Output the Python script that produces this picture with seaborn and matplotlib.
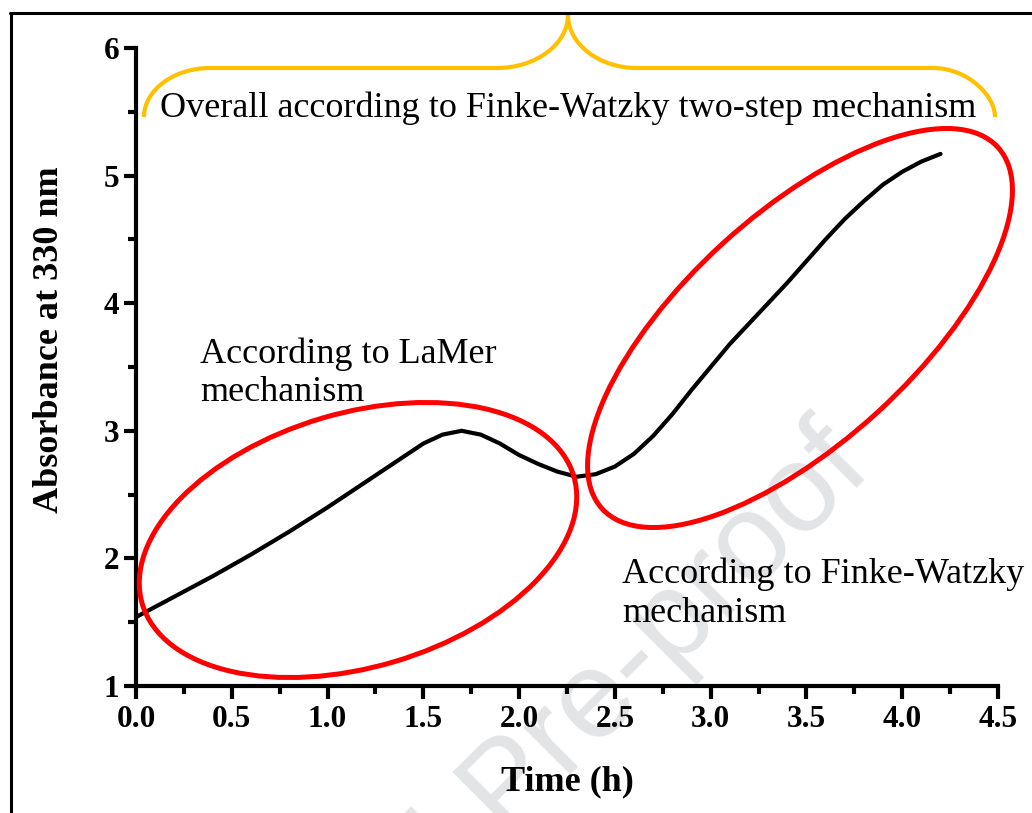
import matplotlib
matplotlib.use("Agg")
import numpy as np
import pandas as pd
import matplotlib.pyplot as plt
import seaborn as sns
from matplotlib.patches import Ellipse, PathPatch
from matplotlib.path import Path
from matplotlib.lines import Line2D
from matplotlib.ticker import MultipleLocator

# Absorbance at 330 nm recorded over the reaction time
time_h = [0.0, 0.2, 0.4, 0.6, 0.8, 1.0, 1.1, 1.2, 1.3, 1.4, 1.5, 1.6, 1.7,
          1.8, 1.9, 2.0, 2.1, 2.2, 2.3, 2.4, 2.5, 2.6, 2.7, 2.8, 2.9, 3.0,
          3.1, 3.2, 3.3, 3.4, 3.5, 3.6, 3.7, 3.8, 3.9, 4.0, 4.1, 4.2]
absorbance = [1.54, 1.70, 1.86, 2.03, 2.21, 2.40, 2.50, 2.60, 2.70, 2.80,
              2.90, 2.97, 3.00, 2.97, 2.90, 2.81, 2.74, 2.68, 2.64, 2.66,
              2.72, 2.82, 2.96, 3.13, 3.32, 3.50, 3.68, 3.84, 4.00, 4.16,
              4.33, 4.50, 4.66, 4.80, 4.93, 5.03, 5.11, 5.17]

x_ticks = [0.0, 0.5, 1.0, 1.5, 2.0, 2.5, 3.0, 3.5, 4.0, 4.5]
y_ticks = [1, 2, 3, 4, 5, 6]

overall_label = "Overall according to Finke-Watzky two-step mechanism"
lamer_label = ["According to LaMer", "mechanism"]
fw_label = ["According to Finke-Watzky", "mechanism"]

sns.set_style("ticks")
plt.rcParams['font.family'] = ['Liberation Serif', 'DejaVu Serif']
plt.rcParams['text.color'] = 'black'
plt.rcParams['axes.labelcolor'] = 'black'
plt.rcParams['xtick.color'] = 'black'
plt.rcParams['ytick.color'] = 'black'

W, H, DPI = 1032, 813, 100
fig = plt.figure(figsize=(W / DPI, H / DPI), dpi=DPI, facecolor="white")


def inch(x, y):
    """Pixel position (from the top-left corner) to figure inches."""
    return (x / DPI, (H - y) / DPI)


def frac(x, y):
    """Pixel position (from the top-left corner) to figure fraction."""
    return (x / W, 1 - y / H)


ax = fig.add_axes([136 / W, 1 - 686 / H, (998 - 136) / W, (686 - 48) / H])
ax.patch.set_visible(False)

df = pd.DataFrame({"Time (h)": time_h, "Absorbance": absorbance})
sns.lineplot(data=df, x="Time (h)", y="Absorbance", color="black",
             linewidth=3, ax=ax, solid_capstyle="round",
             solid_joinstyle="round", zorder=3)

ax.set_xlim(0, 4.5)
ax.set_ylim(1, 6)
ax.set_xticks(x_ticks)
ax.set_xticklabels([f"{v:.1f}" for v in x_ticks], fontweight="bold")
ax.set_yticks(y_ticks)
ax.set_yticklabels([str(v) for v in y_ticks], fontweight="bold")
ax.xaxis.set_minor_locator(MultipleLocator(0.25))
ax.yaxis.set_minor_locator(MultipleLocator(0.5))
ax.tick_params(which="major", direction="out", length=9, width=3,
               labelsize=22.5, color="black", labelcolor="black")
ax.tick_params(axis="x", which="major", pad=5)
ax.tick_params(axis="y", which="major", pad=3)
ax.tick_params(which="minor", direction="out", length=5.5, width=3,
               color="black")
ax.set_xlabel("")
ax.set_ylabel("")
sns.despine(ax=ax)
for side in ("left", "bottom"):
    ax.spines[side].set_linewidth(3)
    ax.spines[side].set_color("black")

# axis titles
fig.text(*frac(567, 790), "Time (h)", ha="center", va="baseline",
         fontsize=26, fontweight="bold")
fig.text(*frac(50, 340), "Absorbance at 330 nm", ha="center", va="center",
         rotation=90, fontsize=26, fontweight="bold")

# frame around the panel
fig.add_artist(Line2D([11 / DPI, 11 / DPI], [inch(0, 13)[1], inch(0, 830)[1]],
                      transform=fig.dpi_scale_trans, color="black", lw=2.2))
fig.add_artist(Line2D([10 / DPI, 1050 / DPI], [inch(0, 13)[1]] * 2,
                      transform=fig.dpi_scale_trans, color="black", lw=2.2))

# regions of the two growth regimes
e1 = Ellipse(inch(358, 540), 4.50, 2.54, angle=16.5, fill=False,
             edgecolor="#ff0000", lw=3.6, transform=fig.dpi_scale_trans,
             zorder=4)
e2 = Ellipse(inch(800, 328), 5.36, 2.29, angle=42.4, fill=False,
             edgecolor="#ff0000", lw=3.6, transform=fig.dpi_scale_trans,
             zorder=4)
fig.add_artist(e1)
fig.add_artist(e2)

# brace spanning the whole curve
brace_pts = [(144, 117), (144, 90), (174, 68), (210, 68),
             (497, 68),
             (536, 68), (568, 44), (568, 15),
             (568, 44), (599, 68), (637, 68),
             (933, 68),
             (967, 68), (995, 95), (995, 117)]
codes = [Path.MOVETO, Path.CURVE4, Path.CURVE4, Path.CURVE4,
         Path.LINETO,
         Path.CURVE4, Path.CURVE4, Path.CURVE4,
         Path.CURVE4, Path.CURVE4, Path.CURVE4,
         Path.LINETO,
         Path.CURVE4, Path.CURVE4, Path.CURVE4]
brace = Path([inch(x, y) for x, y in brace_pts], codes)
fig.add_artist(PathPatch(brace, fill=False, edgecolor="#ffc000", lw=3,
                         transform=fig.dpi_scale_trans, capstyle="butt"))

# annotations
fig.text(*frac(160, 117), overall_label, ha="left", va="baseline", fontsize=26)
fig.text(*frac(200, 363), lamer_label[0], ha="left", va="baseline", fontsize=26)
fig.text(*frac(200, 401), lamer_label[1], ha="left", va="baseline", fontsize=26)
fig.text(*frac(622, 583), fw_label[0], ha="left", va="baseline", fontsize=26)
fig.text(*frac(622, 622), fw_label[1], ha="left", va="baseline", fontsize=26)

# journal watermark
fig.text(*frac(510, 790), "Journal Pre-proof", ha="center", va="center",
         rotation=45, fontsize=90, color="#e3e4e6", family="Liberation Sans",
         zorder=-1)

fig.savefig("out.png", dpi=DPI, facecolor="white")
